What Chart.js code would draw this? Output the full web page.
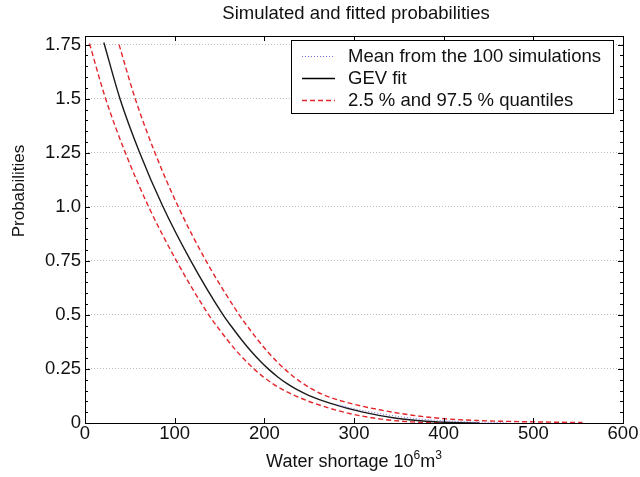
<!DOCTYPE html>
<html>
<head>
<meta charset="utf-8">
<script src="https://cdn.jsdelivr.net/npm/chart.js@4.4.1/dist/chart.umd.min.js"></script>
<style>
html,body{margin:0;padding:0;background:#fff;}
#wrap{width:640px;height:477px;position:relative;}
</style>
</head>
<body>
<div id="wrap"><canvas id="c" width="640" height="477"></canvas></div>
<script>
// ---- data ----
const titleText = 'Simulated and fitted probabilities';
const yAxisLabel = 'Probabilities';
const xTickValues = [0, 100, 200, 300, 400, 500, 600];
const yTickValues = [0, 0.25, 0.5, 0.75, 1.0, 1.25, 1.5, 1.75];
const yTickLabels = ['0', '0.25', '0.5', '0.75', '1.0', '1.25', '1.5', '1.75'];
const seriesLabels = ['Mean from the 100 simulations', 'GEV fit', '2.5 % and 97.5 % quantiles'];

const gevX = [21, 39, 61, 87, 118, 154, 165, 175, 185, 195, 205, 215, 225, 236, 250, 273, 310, 347, 380, 410, 440];
const gevY = [1.76, 1.5, 1.25, 1.0, 0.75, 0.5, 0.437, 0.383, 0.333, 0.288, 0.248, 0.213, 0.183, 0.155, 0.127, 0.092, 0.05, 0.022, 0.008, 0.002, 0];

const meanX = [280, 300, 320, 350, 380, 410, 440, 470];
const meanY = [0.086, 0.066, 0.05, 0.03, 0.016, 0.008, 0.004, 0.001];

const lowX = [5, 23, 45, 71, 102, 138, 149, 159, 169, 179, 189, 199, 209, 220, 234, 255, 292, 330, 365, 400, 430];
const lowY = [1.755, 1.5, 1.25, 1.0, 0.75, 0.5, 0.437, 0.383, 0.333, 0.288, 0.248, 0.213, 0.183, 0.155, 0.127, 0.092, 0.047, 0.018, 0.005, 0.001, 0];

const highX = [38, 56, 78, 104, 135, 172, 183, 193, 203, 213, 223, 233, 243, 254, 268, 292, 330, 365, 403, 440, 476, 520, 555];
const highY = [1.75, 1.5, 1.25, 1.0, 0.75, 0.5, 0.437, 0.383, 0.333, 0.288, 0.248, 0.213, 0.183, 0.155, 0.127, 0.095, 0.06, 0.036, 0.019, 0.011, 0.007, 0.004, 0.002];

const pts = (xs, ys) => xs.map((x, i) => ({x: x, y: ys[i]}));

const FONT = '"Liberation Sans", Arial, sans-serif';
const RED = '#e3262c';
const BLUE = '#6f6fe8';

const decorPlugin = {
  id: 'decor',
  afterDraw(chart) {
    const ctx = chart.ctx;
    const a = chart.chartArea;
    const xs = chart.scales.x, ys = chart.scales.y;
    ctx.save();
    // frame
    ctx.strokeStyle = '#000';
    ctx.lineWidth = 1;
    ctx.strokeRect(Math.round(a.left) + 0.5, Math.round(a.top) + 0.5, Math.round(a.right - a.left), Math.round(a.bottom - a.top));
    // x ticks inward (top and bottom)
    ctx.beginPath();
    xTickValues.forEach(v => {
      const px = Math.round(xs.getPixelForValue(v)) + 0.5;
      ctx.moveTo(px, a.bottom); ctx.lineTo(px, a.bottom - 5);
      ctx.moveTo(px, a.top); ctx.lineTo(px, a.top + 5);
    });
    // y major and minor ticks inward (left and right)
    for (let k = 0; k <= 35; k++) {
      const v = k * 0.05;
      const py = Math.round(ys.getPixelForValue(v)) + 0.5;
      const len = (k % 5 === 0) ? 5 : 3;
      ctx.moveTo(a.left, py); ctx.lineTo(a.left + len, py);
      ctx.moveTo(a.right, py); ctx.lineTo(a.right - len, py);
    }
    ctx.stroke();

    // title
    ctx.fillStyle = '#111';
    ctx.font = '18.5px ' + FONT;
    ctx.textAlign = 'center';
    ctx.textBaseline = 'middle';
    ctx.fillText(titleText, 356, 14);

    // y axis label
    ctx.save();
    ctx.translate(19, 191);
    ctx.rotate(-Math.PI / 2);
    ctx.font = '17px ' + FONT;
    ctx.textAlign = 'center';
    ctx.textBaseline = 'middle';
    ctx.fillText(yAxisLabel, 0, 0);
    ctx.restore();

    // x axis label with superscripts
    const parts = [['Water shortage 10', false], ['6', true], ['m', false], ['3', true]];
    const mainF = '18px ' + FONT, supF = '12px ' + FONT;
    let total = 0;
    parts.forEach(p => { ctx.font = p[1] ? supF : mainF; total += ctx.measureText(p[0]).width; });
    let cx = 354 - total / 2;
    ctx.textAlign = 'left';
    ctx.textBaseline = 'alphabetic';
    parts.forEach(p => {
      ctx.font = p[1] ? supF : mainF;
      ctx.fillText(p[0], cx, p[1] ? 459 : 467);
      cx += ctx.measureText(p[0]).width;
    });

    // legend
    const L = 291, T = 40, R = 613, B = 113;
    ctx.fillStyle = '#fff';
    ctx.fillRect(L, T, R - L, B - T);
    ctx.strokeStyle = '#000';
    ctx.lineWidth = 1;
    ctx.strokeRect(L + 0.5, T + 0.5, R - L, B - T);
    const rows = [56, 78, 100];
    const styles = [
      {c: BLUE, d: [1, 2], w: 1},
      {c: '#000', d: [], w: 1.3},
      {c: RED, d: [5, 3], w: 1.3}
    ];
    rows.forEach((ry, i) => {
      ctx.beginPath();
      ctx.strokeStyle = styles[i].c;
      ctx.lineWidth = styles[i].w;
      ctx.setLineDash(styles[i].d);
      ctx.moveTo(302, ry + 0.5); ctx.lineTo(335, ry + 0.5);
      ctx.stroke();
      ctx.setLineDash([]);
      ctx.fillStyle = '#111';
      ctx.font = '18.5px ' + FONT;
      ctx.textAlign = 'left';
      ctx.textBaseline = 'middle';
      ctx.fillText(seriesLabels[i], 348, ry + 1);
    });
    ctx.restore();
  }
};

new Chart(document.getElementById('c'), {
  type: 'scatter',
  data: {
    datasets: [
      {label: seriesLabels[0], data: pts(meanX, meanY), showLine: true, borderColor: BLUE, borderWidth: 1, borderDash: [1, 2], pointRadius: 0, cubicInterpolationMode: 'monotone'},
      {label: seriesLabels[1], data: pts(gevX, gevY), showLine: true, borderColor: '#1a1a1a', borderWidth: 1.4, pointRadius: 0, cubicInterpolationMode: 'monotone'},
      {label: seriesLabels[2], data: pts(lowX, lowY), showLine: true, borderColor: RED, borderWidth: 1.4, borderDash: [5, 3], pointRadius: 0, cubicInterpolationMode: 'monotone'},
      {label: seriesLabels[2] + ' (upper)', data: pts(highX, highY), showLine: true, borderColor: RED, borderWidth: 1.4, borderDash: [5, 3], pointRadius: 0, cubicInterpolationMode: 'monotone'}
    ]
  },
  options: {
    responsive: false,
    animation: false,
    layout: {padding: {left: 0, right: 17, top: 36, bottom: 0}},
    plugins: {legend: {display: false}, title: {display: false}, tooltip: {enabled: false}},
    scales: {
      x: {
        type: 'linear', min: 0, max: 600,
        afterBuildTicks: s => { s.ticks = xTickValues.map(v => ({value: v})); },
        afterFit: s => { s.height = 54; },
        grid: {display: false, drawTicks: false},
        border: {display: false},
        ticks: {color: '#111', padding: 0, font: {family: FONT, size: 18.5}, maxRotation: 0, autoSkip: false}
      },
      y: {
        type: 'linear', min: 0, max: 1.79,
        afterBuildTicks: s => { s.ticks = yTickValues.map(v => ({value: v})); },
        afterFit: s => { s.width = 85; },
        grid: {display: true, drawTicks: false, color: c => c.tick && c.tick.value === 0 ? 'rgba(0,0,0,0)' : '#bdbdbd', lineWidth: 1},
        border: {display: false, dash: [1, 2]},
        ticks: {
          color: '#111', padding: 4, font: {family: FONT, size: 18.5}, autoSkip: false,
          callback: (v) => { const i = yTickValues.findIndex(t => Math.abs(t - v) < 1e-9); return i >= 0 ? yTickLabels[i] : ''; }
        }
      }
    }
  },
  plugins: [decorPlugin]
});
</script>
</body>
</html>
